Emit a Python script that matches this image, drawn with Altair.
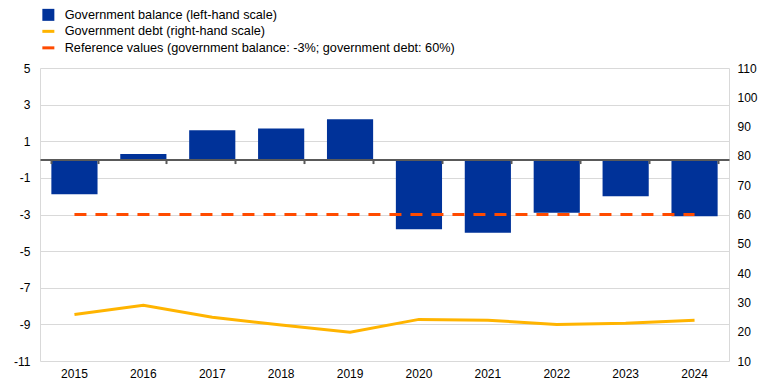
import altair as alt
import pandas as pd

years = ["2015", "2016", "2017", "2018", "2019", "2020", "2021", "2022", "2023", "2024"]
balance = [-1.9, 0.3, 1.6, 1.7, 2.2, -3.8, -4.0, -2.9, -2.0, -3.1]
debt = [25.9, 29.0, 24.9, 22.3, 19.8, 24.2, 23.9, 22.5, 22.9, 23.9]
ref_balance = [-3.0] * len(years)

series = [
    "Government balance (left-hand scale)",
    "Government debt (right-hand scale)",
    "Reference values (government balance: -3%; government debt: 60%)",
]
colors = ["#003299", "#ffb400", "#ff4b00"]
shapes = ["square", "M-1,-0.25H1V0.25H-1Z", "M-1,-0.25H1V0.25H-1Z"]

left_ticks = [-11, -9, -7, -5, -3, -1, 1, 3, 5]
right_ticks = [10, 20, 30, 40, 50, 60, 70, 80, 90, 100, 110]

df = pd.DataFrame({"year": years, "balance": balance, "debt": debt, "ref": ref_balance})
leg = pd.DataFrame({"series": series})

W, H = 689, 293
FONT = "Liberation Sans, Arial, sans-serif"
AX = 12
zero_offset = -(H * 11 / 16)

xscale = alt.Scale(domain=years, paddingInner=0.33, paddingOuter=0.165)
yleft = alt.Scale(domain=[-11, 5], nice=False, zero=False)
yright = alt.Scale(domain=[10, 110], nice=False, zero=False)

bars = alt.Chart(df).mark_bar(color="#003299").encode(
    x=alt.X("year:N", scale=xscale, title=None,
            axis=alt.Axis(orient="bottom", labelAngle=0, domain=False, ticks=False, tickSize=0,
                          labelPadding=7, grid=False, labelFont=FONT, labelFontSize=AX,
                          labelColor="#000000")),
    y=alt.Y("balance:Q", scale=yleft, title=None,
            axis=alt.Axis(orient="left", values=left_ticks, grid=True, gridColor="#d9d9d9",
                          domain=True, domainColor="#d9d9d9", ticks=False, tickSize=0,
                          labelPadding=10, labelFont=FONT, labelFontSize=AX,
                          labelColor="#000000", labelExpr="'' + datum.value")),
)

ref = alt.Chart(df).mark_line(color="#ff4b00", strokeWidth=3, strokeDash=[12, 9]).encode(
    x=alt.X("year:N", scale=xscale, title=None,
            axis=alt.Axis(orient="bottom", offset=zero_offset, labels=False, grid=False,
                          domain=True, domainColor="#595959", domainWidth=2,
                          ticks=True, tickBand="extent", tickColor="#595959", tickWidth=2,
                          tickSize=4, zindex=1)),
    y=alt.Y("ref:Q", scale=yleft, axis=None),
)

line = alt.Chart(df).mark_line(color="#ffb400", strokeWidth=3).encode(
    x=alt.X("year:N", scale=xscale, axis=None),
    y=alt.Y("debt:Q", scale=yright, title=None,
            axis=alt.Axis(orient="right", values=right_ticks, grid=False, domain=True,
                          domainColor="#d9d9d9", ticks=False, tickSize=0, labelPadding=8,
                          labelFont=FONT, labelFontSize=AX, labelColor="#000000")),
)

legend_layer = alt.Chart(leg).mark_point(filled=True, opacity=1, size=144).encode(
    color=alt.Color("series:N", scale=alt.Scale(domain=series, range=colors),
                    legend=alt.Legend(title=None, orient="none", legendX=2, legendY=-59.5,
                                      direction="vertical", symbolSize=144, symbolStrokeWidth=0,
                                      labelFont=FONT, labelFontSize=12.7, labelColor="#000000",
                                      labelLimit=600, rowPadding=2.5, labelOffset=10,
                                      symbolOpacity=1)),
    shape=alt.Shape("series:N", scale=alt.Scale(domain=series, range=shapes), legend=alt.Legend(title=None)),
).transform_filter("false")

chart = alt.layer(bars, ref, line, legend_layer).resolve_scale(
    y="independent"
).resolve_axis(
    x="independent"
).properties(
    width=W, height=H,
    autosize=alt.AutoSizeParams(type="none"),
    padding={"left": 32, "top": 60, "right": 29, "bottom": 19},
).configure_view(stroke=None)

chart.save("out.html", embed_options={"renderer": "svg", "actions": False})
